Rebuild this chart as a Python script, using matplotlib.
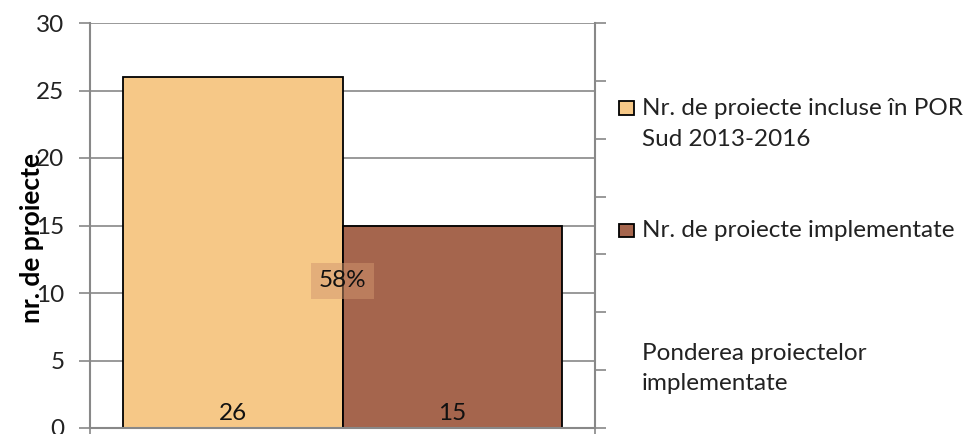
import matplotlib
matplotlib.use("Agg")
import matplotlib.pyplot as plt
from matplotlib.patches import Rectangle

plt.rcParams['font.family'] = ['Lato', 'DejaVu Sans']

series_labels = ["Nr. de proiecte incluse în POR\nSud 2013-2016", "Nr. de proiecte implementate"]
values = [26, 15]
share_label = "Ponderea proiectelor\nimplementate"
share_value = 58  # percent
colors = ["#F6C887", "#A5654D"]
y_ticks = [0, 5, 10, 15, 20, 25, 30]
ylabel = "nr. de proiecte"

W, H = 964, 434
fig = plt.figure(figsize=(W/100, H/100), dpi=100)
L, R, T, B = 90, 595, 23, 428
ax = fig.add_axes([L/W, 1-B/H, (R-L)/W, (B-T)/H])
grid_c = "#888888"
fs = 17.5

xpos = [0, 1]
ax.bar(xpos, values, width=1.0, color=colors, edgecolor="black", linewidth=1.3, zorder=3)
ax.set_xlim(-0.65, 1.65)
ax.set_ylim(0, 30)
ax.set_yticks(y_ticks)
ax.set_yticklabels([str(t) for t in y_ticks], fontsize=fs, color="#222222")
ax.set_xticks([-0.65, 1.65])
ax.set_xticklabels([])
ax.tick_params(axis='y', direction='out', length=8, width=1.2, color=grid_c, pad=10.5)
ax.tick_params(axis='x', direction='out', length=6, width=1.2, color=grid_c)
ax.grid(axis='y', color=grid_c, linewidth=1.2, zorder=0)
for s in ['top', 'right']:
    ax.spines[s].set_visible(False)
for s in ['left', 'bottom']:
    ax.spines[s].set_color(grid_c)
    ax.spines[s].set_linewidth(1.5)
ax.spines['bottom'].set_zorder(5)
ax.set_ylabel(ylabel, fontsize=19, fontweight='bold')
ax.yaxis.set_label_coords(-0.092, 0.47)

for x, v in zip(xpos, values):
    ax.text(x, 1.1, str(v), ha='center', va='center', fontsize=fs, color="#111111", zorder=6)

ax.text(0.5, 10.9, f"{share_value}%", ha='center', va='center', fontsize=fs, color="#111111", zorder=6,
        bbox=dict(boxstyle='square,pad=0.3', facecolor=(0.82, 0.59, 0.43, 0.5), edgecolor='none'))

ax2 = ax.twinx()
ax2.set_ylim(0, 0.7)
ax2.set_yticks([i/10 for i in range(8)])
ax2.set_yticklabels([])
ax2.tick_params(axis='y', direction='out', length=8, width=1.2, color=grid_c)
for s in ['top', 'left', 'bottom']:
    ax2.spines[s].set_visible(False)
ax2.spines['right'].set_color(grid_c)
ax2.spines['right'].set_linewidth(1.5)

# legend (manual, Excel-style)
def fx(px): return px / W
def fy(py): return 1 - py / H
entries = [(series_labels[0], colors[0], 115), (series_labels[1], colors[1], 237), (share_label, None, 360)]
for text, col, base in entries:
    if col is not None:
        fig.patches.append(Rectangle((fx(619), fy(base - 0.5)), 15/W, 13/H, transform=fig.transFigure,
                                     facecolor=col, edgecolor="black", linewidth=1.3))
    for i, line in enumerate(text.split("\n")):
        fig.text(fx(642), fy(base + 30.5 * i), line, ha='left', va='baseline', fontsize=fs, color="#222222")

fig.savefig("out.png", dpi=100)
